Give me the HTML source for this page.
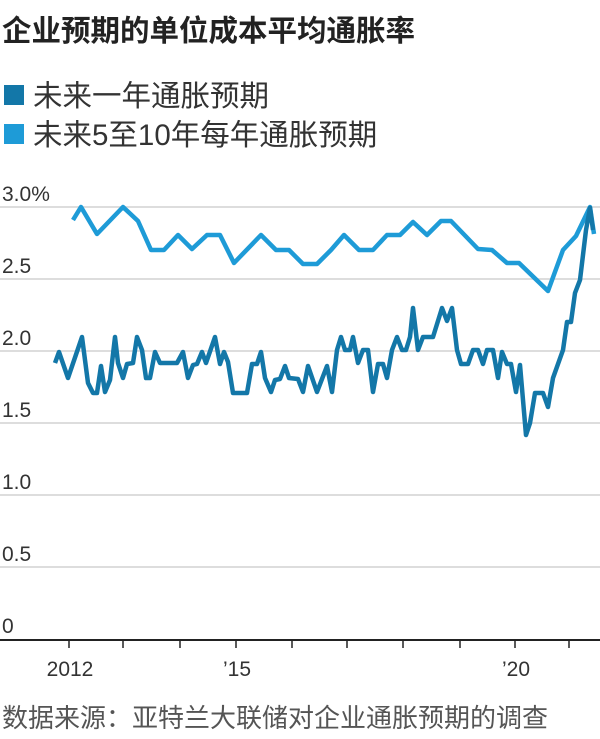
<!DOCTYPE html>
<html><head><meta charset="utf-8"><style>
body{margin:0;background:#fff;width:600px;height:734px;overflow:hidden;font-family:"Liberation Sans","Noto Sans CJK SC",sans-serif;}
</style></head><body>
<svg width="600" height="734" viewBox="0 0 600 734" xmlns="http://www.w3.org/2000/svg" style="font-family:'Liberation Sans','Noto Sans CJK SC',sans-serif">
<text x="2" y="41" font-size="29.5" font-weight="bold" fill="#222">企业预期的单位成本平均通胀率</text>
<rect x="4" y="85" width="20" height="20" fill="#1377a8"/>
<text x="33" y="106" font-size="29.5" fill="#333">未来一年通胀预期</text>
<rect x="4" y="124" width="20" height="20" fill="#1e9bd7"/>
<text x="33" y="145" font-size="29.5" fill="#333">未来5至10年每年通胀预期</text>
<g stroke="#ddd" stroke-width="2">
<line x1="0" y1="207" x2="600" y2="207"/><line x1="0" y1="279" x2="600" y2="279"/>
<line x1="0" y1="351" x2="600" y2="351"/><line x1="0" y1="423" x2="600" y2="423"/>
<line x1="0" y1="495" x2="600" y2="495"/><line x1="0" y1="567" x2="600" y2="567"/>
</g>
<g font-size="21" fill="#333">
<text x="2" y="201">3.0%</text><text x="2" y="273">2.5</text><text x="2" y="345">2.0</text>
<text x="2" y="417">1.5</text><text x="2" y="489">1.0</text><text x="2" y="561">0.5</text><text x="2" y="633">0</text>
</g>
<line x1="0" y1="640" x2="600" y2="640" stroke="#222" stroke-width="2"/>
<g stroke="#222" stroke-width="1.5">
<line x1="69" y1="640" x2="69" y2="648"/><line x1="123" y1="640" x2="123" y2="648"/><line x1="180" y1="640" x2="180" y2="648"/>
<line x1="236" y1="640" x2="236" y2="648"/><line x1="292" y1="640" x2="292" y2="648"/><line x1="347" y1="640" x2="347" y2="648"/>
<line x1="403" y1="640" x2="403" y2="648"/><line x1="460" y1="640" x2="460" y2="648"/><line x1="515" y1="640" x2="515" y2="648"/>
<line x1="569" y1="640" x2="569" y2="648"/>
</g>
<g font-size="21" fill="#333" text-anchor="middle">
<text x="70" y="676">2012</text><text x="237" y="676">’15</text><text x="516" y="676">’20</text>
</g>
<text x="2" y="727" font-size="26" fill="#555">数据来源：亚特兰大联储对企业通胀预期的调查</text>
<polyline fill="none" stroke="#1e9bd7" stroke-width="4.5" stroke-linejoin="round" points="73,220 81,207 97,234 123,207 138,221 151,250 164,250 178,235 192,249 207,235 220,235 234,263 261,235 276,250 289,250 303,264 317,264 331,250 344,235 359,250 373,250 387,235 400,235 413,222 427,235 441,221 451,221 478,249 492,250 507,263 519,263 548,291 563,250 576,236 590,207 594,234"/>
<polyline fill="none" stroke="#1377a8" stroke-width="4.5" stroke-linejoin="round" points="55,363 59,352 68,378 82,337 88,383 93,393 97,393 101,366 105,392 110,380 115,337 118,363 123,378 127,364 133,363 137,337 142,350 146,378 150,378 155,352 160,363 177,363 183,352 188,378 193,365 197,364 202,352 206,363 215,337 220,364 224,352 228,362 233,393 247,393 252,364 257,364 261,352 265,378 271,392 275,380 280,379 285,366 289,378 298,379 303,392 308,366 317,392 327,366 332,392 337,350 341,337 345,350 350,350 353,337 358,363 363,350 368,350 373,392 378,364 383,364 387,378 392,350 397,337 402,350 406,350 410,337 413,308 418,350 423,337 433,337 442,308 447,321 452,308 457,350 461,364 468,364 473,350 478,350 483,364 487,350 493,350 498,378 502,352 507,364 511,364 516,392 520,365 526,435 530,423 535,393 543,393 548,407 553,378 563,350 567,322 571,322 575,293 580,280 586,230 590,208 593,230"/>
</svg>
</body></html>
